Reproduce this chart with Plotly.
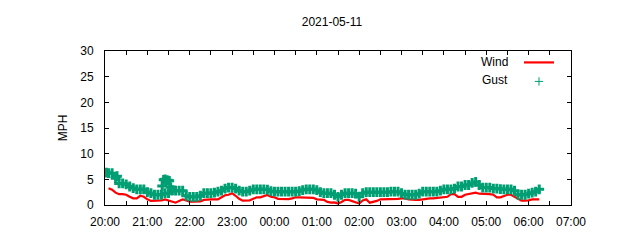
import pandas as pd
import plotly.graph_objects as go

title_text = "2021-05-11"
start_time = "2021-05-10 20:05"
sample_freq = "5min"

wind_mph = [
    3.25, 3.0, 2.4, 2.1, 2.1, 2.0, 1.6, 1.3, 1.3, 1.8, 1.6, 1.1,
    0.8, 0.8, 0.8, 0.9, 1.1, 0.9, 0.6, 0.45, 0.8, 1.1, 0.9, 0.65,
    0.65, 0.65, 0.7, 1.0, 1.1, 1.1, 1.1, 1.1, 1.5, 1.9, 2.0, 2.3,
    1.8, 1.2, 0.85, 0.85, 0.9, 1.2, 1.5, 1.5, 1.8, 1.95, 1.6, 1.5,
    1.2, 1.15, 1.15, 1.15, 1.3, 1.5, 1.5, 1.5, 1.5, 1.5, 1.4, 1.1,
    1.1, 1.0, 0.6, 0.45, 0.5, 0.3, 0.6, 1.0, 1.0, 0.8, 0.6, 0.3,
    0.9, 1.1, 0.45, 0.6, 0.8, 1.1, 1.1, 1.1, 1.1, 1.1, 1.2, 1.3,
    1.3, 1.1, 1.0, 1.0, 1.0, 1.1, 1.3, 1.3, 1.3, 1.4, 1.5, 1.5,
    1.6, 2.1, 2.1, 1.6, 1.6, 2.0, 2.1, 2.3, 2.4, 2.2, 2.2, 2.2,
    2.1, 2.0, 1.5, 1.5, 1.8, 2.0, 2.0, 1.6, 1.3, 0.85, 0.85, 0.9,
    1.1, 1.1, 1.1,
]

gust_mph = [
    6.2, 6.2, 5.2, 4.2, 4.2, 4.0, 3.6, 3.3, 3.05, 3.05, 3.05, 2.5,
    2.3, 2.0, 2.0, 2.0, 2.3, 2.3, 2.8, 2.8, 2.8, 2.8, 1.8, 1.6,
    1.6, 1.6, 1.8, 2.3, 2.3, 2.3, 2.4, 2.6, 2.8, 3.2, 3.4, 3.4,
    3.2, 2.8, 2.6, 2.6, 2.8, 3.05, 3.05, 3.05, 3.05, 3.0, 2.7, 2.6,
    2.6, 2.6, 2.6, 2.6, 2.6, 2.6, 2.7, 2.9, 3.05, 3.05, 3.05, 2.9,
    2.5, 2.3, 2.3, 2.3, 2.0, 1.6, 2.0, 2.3, 2.3, 2.3, 2.2, 1.6,
    2.3, 2.5, 2.5, 2.5, 2.5, 2.5, 2.5, 2.5, 2.6, 2.6, 2.6, 2.3,
    2.0, 2.0, 2.0, 2.0, 2.2, 2.6, 2.6, 2.6, 2.6, 2.6, 2.8, 3.05,
    3.05, 3.05, 3.2, 3.6, 3.6, 3.9, 3.9, 4.3, 4.5, 3.9, 3.4, 3.4,
    3.4, 3.2, 3.2, 3.1, 3.05, 3.05, 3.05, 2.8, 2.0, 2.0, 2.0, 2.2,
    2.4, 2.6, 3.05,
]

extra_gust_times = [
    "2021-05-10 20:02", "2021-05-10 20:17", "2021-05-10 21:21",
    "2021-05-10 21:23", "2021-05-10 21:25", "2021-05-10 21:27",
    "2021-05-10 21:29", "2021-05-10 21:31", "2021-05-10 21:33",
    "2021-05-10 21:35",
]
extra_gust_mph = [6.3, 5.6, 3.7, 4.9, 5.0, 4.8, 4.8, 4.7, 3.5, 2.9]

y_ticks = [0, 5, 10, 15, 20, 25, 30]
x_range = ["2021-05-10 20:00", "2021-05-11 07:00"]

times = pd.date_range(start_time, periods=len(wind_mph), freq=sample_freq)
gust_df = pd.concat([
    pd.DataFrame({"t": times, "v": gust_mph}),
    pd.DataFrame({"t": pd.to_datetime(extra_gust_times), "v": extra_gust_mph}),
]).sort_values("t")

RED = "#ff0000"
GREEN = "#009e73"
FONT = "Liberation Sans, Arial, sans-serif"

fig = go.Figure()
fig.add_trace(go.Scatter(
    x=times, y=wind_mph, mode="lines", name=" ",
    line=dict(color=RED, width=2.2), showlegend=True,
))
fig.add_trace(go.Scatter(
    x=gust_df["t"], y=gust_df["v"], mode="markers", name="Gust",
    marker=dict(symbol="cross-thin", size=7, line=dict(color=GREEN, width=3), color=GREEN),
    showlegend=False,
))
fig.add_trace(go.Scatter(
    x=[None], y=[None], mode="markers", name=" ",
    marker=dict(symbol="cross-thin", size=6, line=dict(color=GREEN, width=1), color=GREEN),
    showlegend=True,
))

axis_common = dict(
    showline=True, linecolor="black", linewidth=1, mirror="ticks",
    ticks="inside", ticklen=4, tickcolor="black", tickwidth=1,
    showgrid=False, zeroline=False,
    tickfont=dict(family=FONT, size=12, color="black"),
)

fig.update_xaxes(
    type="date", range=x_range, tick0=x_range[0], dtick=3600000,
    tickformat="%H:%M", ticklabelstandoff=6,
    minor=dict(dtick=1800000, ticks="inside", ticklen=4, tickcolor="black", tickwidth=1, showgrid=False),
    **axis_common,
)
fig.update_yaxes(
    range=[0, 30], tickvals=y_ticks, ticklabelstandoff=8,
    title=dict(text="MPH", font=dict(family=FONT, size=12, color="black"), standoff=10),
    **axis_common,
)

fig.update_layout(
    width=640, height=240,
    margin=dict(l=105, r=69, t=51, b=35),
    paper_bgcolor="white", plot_bgcolor="white",
    font=dict(family=FONT, size=12, color="black"),
    title=dict(text=title_text, x=332 / 640, xref="container", xanchor="center",
               y=1 - 22 / 240, yref="container", yanchor="middle",
               font=dict(family=FONT, size=12, color="black")),
    legend=dict(x=(519 - 105) / 466, xanchor="left", y=1.02, yanchor="top",
                bgcolor="rgba(0,0,0,0)", font=dict(family=FONT, size=12),
                tracegroupgap=0),
    annotations=[
        dict(text="Wind", x=(510 - 105) / 466, y=(205 - 62) / 154, xref="paper", yref="paper",
             xanchor="right", yanchor="middle", showarrow=False,
             font=dict(family=FONT, size=12, color="black")),
        dict(text="Gust", x=(510 - 105) / 466, y=(205 - 80) / 154, xref="paper", yref="paper",
             xanchor="right", yanchor="middle", showarrow=False,
             font=dict(family=FONT, size=12, color="black")),
    ],
)

fig.write_html("out.html")
